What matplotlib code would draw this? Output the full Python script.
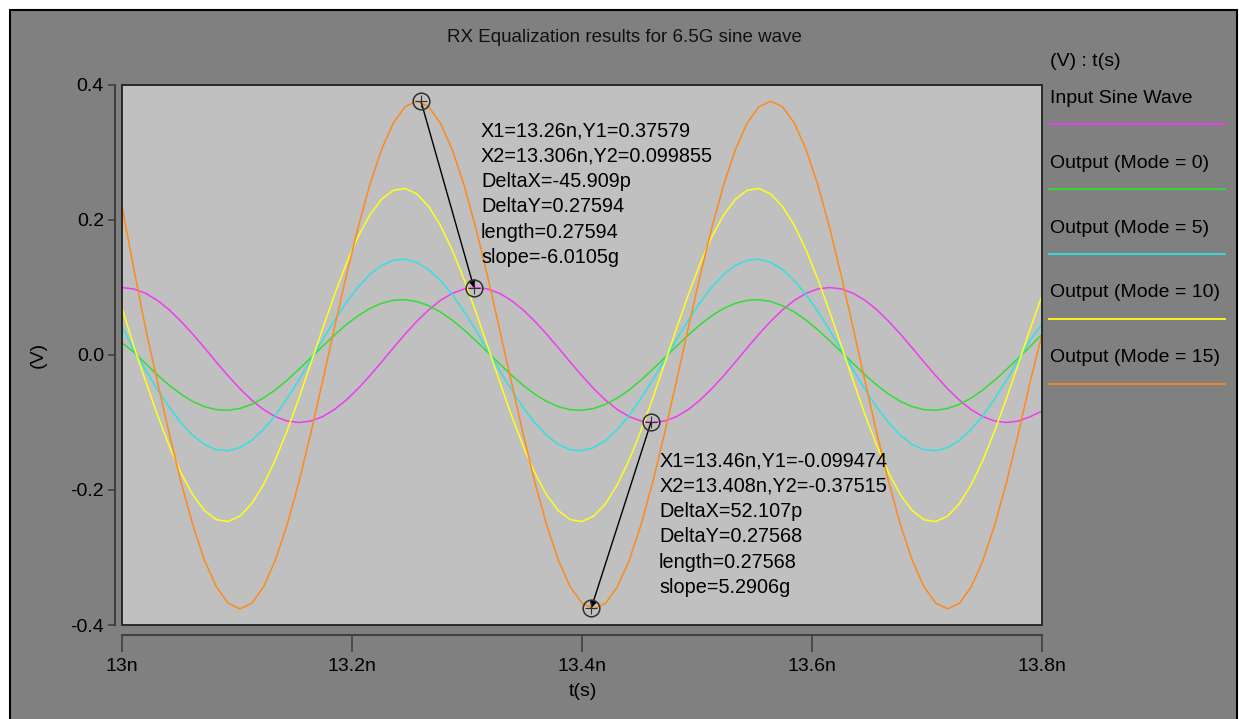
import numpy as np
import matplotlib
matplotlib.use("Agg")
import matplotlib.pyplot as plt
from matplotlib.patches import Rectangle
from matplotlib.lines import Line2D

plt.rcParams['font.family'] = ['Liberation Sans', 'DejaVu Sans']

# sample times in ns (79 samples, 13n .. 13.8n)
t_ns = np.linspace(13.0, 13.8, 79)

input_wave = [0.1000, 0.0978, 0.0914, 0.0809, 0.0669, 0.0500, 0.0309, 0.0105, -0.0105, -0.0309,
              -0.0500, -0.0669, -0.0809, -0.0914, -0.0978, -0.1000, -0.0978, -0.0914, -0.0809, -0.0669,
              -0.0500, -0.0309, -0.0105, 0.0105, 0.0309, 0.0500, 0.0669, 0.0809, 0.0914, 0.0978,
              0.1000, 0.0978, 0.0914, 0.0809, 0.0669, 0.0500, 0.0309, 0.0105, -0.0105, -0.0309,
              -0.0500, -0.0669, -0.0809, -0.0914, -0.0978, -0.1000, -0.0978, -0.0914, -0.0809, -0.0669,
              -0.0500, -0.0309, -0.0105, 0.0105, 0.0309, 0.0500, 0.0669, 0.0809, 0.0914, 0.0978,
              0.1000, 0.0978, 0.0914, 0.0809, 0.0669, 0.0500, 0.0309, 0.0105, -0.0105, -0.0309,
              -0.0500, -0.0669, -0.0809, -0.0914, -0.0978, -0.1000, -0.0978, -0.0914, -0.0830]

mode0 = [0.0180, 0.0043, -0.0128, -0.0294, -0.0447, -0.0580, -0.0688, -0.0766, -0.0810, -0.0819,
         -0.0792, -0.0731, -0.0637, -0.0516, -0.0372, -0.0212, -0.0043, 0.0128, 0.0294, 0.0447,
         0.0580, 0.0688, 0.0766, 0.0810, 0.0819, 0.0792, 0.0731, 0.0637, 0.0516, 0.0372,
         0.0212, 0.0043, -0.0128, -0.0294, -0.0447, -0.0580, -0.0688, -0.0766, -0.0810, -0.0819,
         -0.0792, -0.0731, -0.0637, -0.0516, -0.0372, -0.0212, -0.0043, 0.0128, 0.0294, 0.0447,
         0.0580, 0.0688, 0.0766, 0.0810, 0.0819, 0.0792, 0.0731, 0.0637, 0.0516, 0.0372,
         0.0212, 0.0043, -0.0128, -0.0294, -0.0447, -0.0580, -0.0688, -0.0766, -0.0810, -0.0819,
         -0.0792, -0.0731, -0.0637, -0.0516, -0.0372, -0.0212, -0.0043, 0.0128, 0.0305]

mode5 = [0.0425, 0.0074, -0.0222, -0.0509, -0.0773, -0.1004, -0.1191, -0.1326, -0.1403, -0.1418,
         -0.1372, -0.1265, -0.1103, -0.0894, -0.0645, -0.0367, -0.0074, 0.0222, 0.0509, 0.0773,
         0.1004, 0.1191, 0.1326, 0.1403, 0.1418, 0.1372, 0.1265, 0.1103, 0.0894, 0.0645,
         0.0367, 0.0074, -0.0222, -0.0509, -0.0773, -0.1004, -0.1191, -0.1326, -0.1403, -0.1418,
         -0.1372, -0.1265, -0.1103, -0.0894, -0.0645, -0.0367, -0.0074, 0.0222, 0.0509, 0.0773,
         0.1004, 0.1191, 0.1326, 0.1403, 0.1418, 0.1372, 0.1265, 0.1103, 0.0894, 0.0645,
         0.0367, 0.0074, -0.0222, -0.0509, -0.0773, -0.1004, -0.1191, -0.1326, -0.1403, -0.1418,
         -0.1372, -0.1265, -0.1103, -0.0894, -0.0645, -0.0367, -0.0074, 0.0222, 0.0455]

mode10 = [0.0700, 0.0129, -0.0386, -0.0885, -0.1345, -0.1747, -0.2072, -0.2306, -0.2440, -0.2467,
          -0.2386, -0.2201, -0.1919, -0.1554, -0.1121, -0.0639, -0.0129, 0.0386, 0.0885, 0.1345,
          0.1747, 0.2072, 0.2306, 0.2440, 0.2467, 0.2386, 0.2201, 0.1919, 0.1554, 0.1121,
          0.0639, 0.0129, -0.0386, -0.0885, -0.1345, -0.1747, -0.2072, -0.2306, -0.2440, -0.2467,
          -0.2386, -0.2201, -0.1919, -0.1554, -0.1121, -0.0639, -0.0129, 0.0386, 0.0885, 0.1345,
          0.1747, 0.2072, 0.2306, 0.2440, 0.2467, 0.2386, 0.2201, 0.1919, 0.1554, 0.1121,
          0.0639, 0.0129, -0.0386, -0.0885, -0.1345, -0.1747, -0.2072, -0.2306, -0.2440, -0.2467,
          -0.2386, -0.2201, -0.1919, -0.1554, -0.1121, -0.0639, -0.0129, 0.0386, 0.0880]

mode15 = [0.2200, 0.1280, 0.0393, -0.0393, -0.1162, -0.1880, -0.2516, -0.3042, -0.3435, -0.3678,
          -0.3760, -0.3678, -0.3435, -0.3042, -0.2516, -0.1880, -0.1162, -0.0393, 0.0393, 0.1162,
          0.1880, 0.2516, 0.3042, 0.3435, 0.3678, 0.3760, 0.3678, 0.3435, 0.3042, 0.2516,
          0.1880, 0.1162, 0.0393, -0.0393, -0.1162, -0.1880, -0.2516, -0.3042, -0.3435, -0.3678,
          -0.3760, -0.3678, -0.3435, -0.3042, -0.2516, -0.1880, -0.1162, -0.0393, 0.0393, 0.1162,
          0.1880, 0.2516, 0.3042, 0.3435, 0.3678, 0.3760, 0.3678, 0.3435, 0.3042, 0.2516,
          0.1880, 0.1162, 0.0393, -0.0393, -0.1162, -0.1880, -0.2516, -0.3042, -0.3435, -0.3678,
          -0.3760, -0.3678, -0.3435, -0.3042, -0.2516, -0.1880, -0.1162, -0.0393, 0.0300]

series_names = ["Input Sine Wave", "Output (Mode = 0)", "Output (Mode = 5)",
                "Output (Mode = 10)", "Output (Mode = 15)"]
series_vals = [input_wave, mode0, mode5, mode10, mode15]
series_colors = ['#f03cf0', '#33dd33', '#33e0e0', '#ffff1a', '#ff8a1a']

# measurement cursors: (x1, y1), (x2, y2) in ns / V
cursor_a = [(13.26, 0.37579), (13.306, 0.099855)]
cursor_b = [(13.46, -0.099474), (13.408, -0.37515)]
text_a = ["X1=13.26n,Y1=0.37579", "X2=13.306n,Y2=0.099855", "DeltaX=-45.909p",
          "DeltaY=0.27594", "length=0.27594", "slope=-6.0105g"]
text_b = ["X1=13.46n,Y1=-0.099474", "X2=13.408n,Y2=-0.37515", "DeltaX=52.107p",
          "DeltaY=0.27568", "length=0.27568", "slope=5.2906g"]

x_ticks = [13.0, 13.2, 13.4, 13.6, 13.8]
x_tick_labels = ["13n", "13.2n", "13.4n", "13.6n", "13.8n"]
y_ticks = [0.4, 0.2, 0.0, -0.2, -0.4]
y_tick_labels = ["0.4", "0.2", "0.0", "-0.2", "-0.4"]

W, H = 1239, 719
fig = plt.figure(figsize=(W / 100, H / 100), dpi=100, facecolor='white')
fig.add_artist(Rectangle((10 / W, -0.01), (1237 - 10) / W, 1 - 10 / H + 0.01,
                         transform=fig.transFigure, facecolor='#808080',
                         edgecolor='black', lw=1.5, zorder=-5))

ax = fig.add_axes([122 / W, 1 - 625 / H, 920 / W, 540 / H])
ax.set_facecolor('#c0c0c0')
for vals, col in zip(series_vals, series_colors):
    ax.plot(t_ns, vals, color=col, lw=1.1)
ax.set_xlim(13.0, 13.8)
ax.set_ylim(-0.4, 0.4)

# plot area border + offset axis lines
ax.add_patch(Rectangle((0, 0), 1, 1, transform=ax.transAxes, fill=False,
                       edgecolor='#202020', lw=1.3, clip_on=False, zorder=10))
ax.spines['top'].set_visible(False)
ax.spines['right'].set_visible(False)
ax.spines['left'].set_position(('outward', 5))
ax.spines['bottom'].set_position(('outward', 7))
for s in ['left', 'bottom']:
    ax.spines[s].set_color('#404040')
    ax.spines[s].set_linewidth(1.5)

ax.set_xticks(x_ticks)
ax.set_xticklabels(x_tick_labels)
ax.set_yticks(y_ticks)
ax.set_yticklabels(y_tick_labels)
ax.tick_params(axis='x', direction='out', length=12, width=1.2, pad=5,
               labelsize=14, color='#404040')
ax.tick_params(axis='y', direction='out', length=5, width=1.2, pad=3,
               labelsize=14, color='#404040')

# cursors
for cur, lines in [(cursor_a, text_a), (cursor_b, text_b)]:
    (x1, y1), (x2, y2) = cur
    ax.annotate('', xy=(x2, y2), xytext=(x1, y1),
                arrowprops=dict(arrowstyle='-|>', color='black', lw=1.0,
                                shrinkA=0, shrinkB=0, mutation_scale=10))
    ax.plot([x1, x2], [y1, y2], ls='none', marker='o', ms=12, mfc='none',
            mec='#303030', mew=1.1, zorder=6)
    ax.plot([x1, x2], [y1, y2], ls='none', marker='+', ms=9, mec='#303030',
            mew=0.8, zorder=6)

# cursor readouts
for (xt, yt), lines in [((13.3122, 0.3319), text_a), ((13.467, -0.157), text_b)]:
    for i, s in enumerate(lines):
        ax.annotate(s, xy=(xt, yt), xytext=(0, -18.2 * i), textcoords='offset points',
                    ha='left', va='center', fontsize=14.3, color='black')

fig.text(624 / W, 1 - 37 / H, "RX Equalization results for 6.5G sine wave",
         ha='center', va='center', fontsize=13.5, color='#111111')
fig.text(38 / W, 1 - 355 / H, "(V)", rotation=90, ha='center', va='center', fontsize=14)
fig.text(583 / W, 1 - 692 / H, "t(s)", ha='center', va='center', fontsize=14)

# legend block on the right
fig.text(1050 / W, 1 - 62 / H, "(V) : t(s)", ha='left', va='center', fontsize=14)
for i, (name, col) in enumerate(zip(series_names, series_colors)):
    ty = 98.5 + 64.8 * i
    ly = 124.3 + 64.8 * i
    fig.text(1050 / W, 1 - ty / H, name, ha='left', va='center', fontsize=14)
    fig.add_artist(Line2D([1049 / W, 1225 / W], [1 - ly / H, 1 - ly / H],
                          transform=fig.transFigure, color=col, lw=1.3))

fig.savefig("out.png", dpi=100, facecolor=fig.get_facecolor())
